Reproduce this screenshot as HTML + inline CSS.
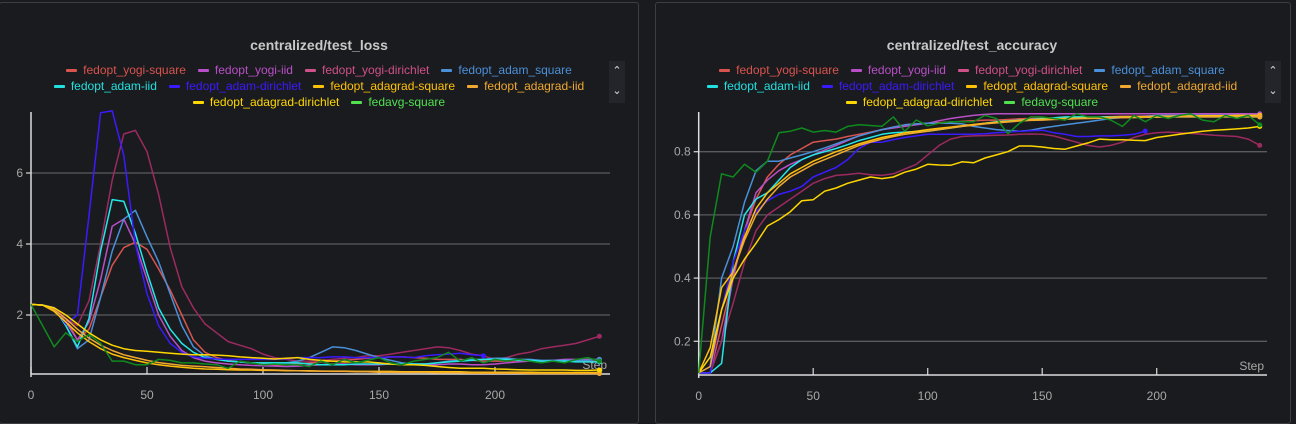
<!DOCTYPE html>
<html><head><meta charset="utf-8">
<style>
body{margin:0;background:#1a1b1e;width:1296px;height:412px;overflow:hidden;font-family:"Liberation Sans",sans-serif}
.panel{position:absolute;top:2px;height:420px;border:1px solid #3c3e42;border-radius:3px;background:#1a1b1e}
.title{position:absolute;top:37px;width:100%;text-align:center;color:#c8c8c8;font-weight:bold;font-size:14px}
.legend{position:absolute;top:62px;left:40px;right:40px;text-align:center;font-size:12px;line-height:16px}
.li{display:inline-block;margin:0 6px;white-space:nowrap}
.li i{display:inline-block;width:11px;height:3px;vertical-align:middle;margin-right:6px;border-radius:1px}
.scroll{position:absolute;top:61px;width:16px;height:42px;background:#23252a;color:#ddd;font-size:11px;text-align:center;line-height:20px}
svg{position:absolute;left:0;top:0}
</style></head><body>
<div class="panel" style="left:-1px;width:638px"></div>
<div class="panel" style="left:655px;width:634px"></div>
<svg id="chart" width="1296" height="412"></svg>
<div style="position:absolute;left:0;width:638px;top:0">
<div class="title">centralized/test_loss</div>
<div class="legend" id="leg1"></div>
<div class="scroll" style="left:609px">⌃<br>⌄</div>
</div>
<div style="position:absolute;left:655px;width:634px;top:0">
<div class="title">centralized/test_accuracy</div>
<div class="legend" id="leg2"></div>
<div class="scroll" style="left:610px">⌃<br>⌄</div>
</div>
<script>
const seriesNames=["fedopt_yogi-square","fedopt_yogi-iid","fedopt_yogi-dirichlet","fedopt_adam_square","fedopt_adam-iid","fedopt_adam-dirichlet","fedopt_adagrad-square","fedopt_adagrad-iid","fedopt_adagrad-dirichlet","fedavg-square"];
const textColors=["#d9534f","#b94fc8","#d0508a","#4a90d9","#22e0e0","#3a1aff","#ffc107","#f0a830","#ffd700","#50e050"];
const lineColors=["#d9534f","#b94fc8","#9c2a60","#4a90d9","#22e8e8","#3a1aff","#ffc107","#f0a830","#ffd700","#0f8a1e"];
const steps=[0,5,10,15,20,25,30,35,40,45,50,55,60,65,70,75,80,85,90,95,100,105,110,115,120,125,130,135,140,145,150,155,160,165,170,175,180,185,190,195,200,205,210,215,220,225,230,235,240,245];
const lossTicksY=[2,4,6];
const accTicksY=[0.2,0.4,0.6,0.8];
const ticksX=[0,50,100,150,200];
const loss_yogi_square=[2.3,2.28,2.2,1.9,1.3,1.6,2.5,3.4,3.9,4.05,3.85,3.3,2.7,2.0,1.3,0.95,0.8,0.72,0.68,0.65,0.62,0.6,0.6,0.62,0.65,0.68,0.7,0.72,0.75,0.78,0.8,0.82,0.82,0.8,0.78,0.75,0.75,0.75,0.72,0.7,0.7,0.7,0.72,0.72,0.7,0.7,0.7,0.7,0.68,0.7];
const loss_yogi_iid=[2.3,2.28,2.2,1.8,1.3,1.8,3.0,4.5,4.7,4.0,3.0,2.0,1.4,1.0,0.8,0.7,0.65,0.62,0.6,0.58,0.57,0.56,0.55,0.56,0.58,0.6,0.62,0.62,0.6,0.6,0.6,0.62,0.62,0.62,0.6,0.6,0.62,0.62,0.6,0.6,0.62,0.65,0.68,0.7,0.7,0.72,0.75,0.75,0.75,0.75];
const loss_yogi_dirichlet=[2.3,2.28,2.2,1.9,1.7,2.4,4.0,5.8,7.1,7.2,6.6,5.4,3.9,2.8,2.2,1.75,1.5,1.25,1.15,1.05,0.9,0.8,0.75,0.7,0.7,0.72,0.75,0.78,0.8,0.85,0.85,0.9,0.95,1.0,1.05,1.1,1.08,1.0,0.9,0.85,0.75,0.8,0.9,0.95,1.05,1.1,1.15,1.2,1.3,1.4];
const loss_adam_square=[2.3,2.28,2.2,1.7,1.05,1.3,2.5,3.8,4.7,4.95,4.2,3.5,2.6,1.7,1.1,0.85,0.75,0.7,0.68,0.65,0.65,0.65,0.65,0.7,0.8,0.95,1.1,1.08,1.0,0.9,0.8,0.72,0.65,0.62,0.62,0.65,0.7,0.72,0.75,0.75,0.78,0.78,0.75,0.75,0.72,0.72,0.72,0.72,0.72,0.75];
const loss_adam_iid=[2.3,2.28,2.2,1.7,1.1,1.9,3.8,5.25,5.2,4.3,3.2,2.2,1.6,1.2,0.95,0.8,0.75,0.7,0.68,0.65,0.65,0.65,0.65,0.65,0.62,0.6,0.6,0.6,0.62,0.62,0.62,0.62,0.62,0.62,0.62,0.65,0.68,0.7,0.72,0.75,0.75,0.75,0.72,0.72,0.7,0.7,0.7,0.68,0.68,0.68];
const loss_adam_dirichlet=[2.3,2.28,2.2,1.75,2.0,4.8,7.7,7.75,6.5,4.0,2.6,1.7,1.2,0.95,0.82,0.78,0.76,0.75,0.75,0.75,0.75,0.75,0.77,0.8,0.8,0.8,0.82,0.82,0.8,0.8,0.8,0.82,0.82,0.8,0.85,0.88,0.9,0.92,0.88,0.85];
const loss_adagrad_square=[2.3,2.28,2.1,1.8,1.5,1.25,1.05,0.9,0.8,0.72,0.65,0.6,0.56,0.53,0.5,0.48,0.47,0.46,0.45,0.45,0.44,0.44,0.43,0.43,0.43,0.42,0.42,0.42,0.41,0.41,0.41,0.41,0.4,0.4,0.4,0.4,0.4,0.4,0.39,0.39,0.39,0.39,0.39,0.39,0.38,0.38,0.38,0.38,0.38,0.38];
const loss_adagrad_iid=[2.3,2.28,2.15,1.9,1.6,1.35,1.15,1.0,0.88,0.8,0.72,0.66,0.62,0.58,0.56,0.54,0.52,0.5,0.48,0.47,0.46,0.45,0.44,0.43,0.42,0.42,0.41,0.41,0.4,0.4,0.39,0.39,0.38,0.38,0.38,0.37,0.37,0.37,0.36,0.36,0.36,0.36,0.36,0.35,0.35,0.35,0.35,0.35,0.35,0.35];
const loss_adagrad_dirichlet=[2.3,2.28,2.2,2.0,1.75,1.5,1.3,1.15,1.05,1.0,0.98,0.95,0.92,0.9,0.88,0.88,0.87,0.85,0.82,0.8,0.78,0.76,0.78,0.8,0.75,0.72,0.7,0.68,0.68,0.68,0.65,0.62,0.6,0.6,0.58,0.55,0.52,0.5,0.5,0.5,0.48,0.47,0.46,0.45,0.45,0.45,0.45,0.44,0.44,0.45];
const loss_fedavg_square=[2.3,1.7,1.1,1.5,1.25,1.45,1.2,0.7,0.7,0.6,0.6,0.75,0.72,0.65,0.65,0.62,0.6,0.5,0.7,0.65,0.6,0.62,0.6,0.6,0.55,0.7,0.6,0.75,0.65,0.72,0.8,0.65,0.6,0.7,0.75,0.8,0.95,0.7,0.8,0.65,0.75,0.7,0.75,0.7,0.65,0.7,0.65,0.75,0.8,0.7];
const acc_yogi_square=[0.1,0.1,0.25,0.4,0.55,0.65,0.72,0.76,0.79,0.81,0.83,0.835,0.84,0.848,0.855,0.862,0.87,0.878,0.885,0.888,0.89,0.892,0.894,0.896,0.898,0.9,0.9,0.902,0.904,0.905,0.906,0.907,0.908,0.909,0.91,0.91,0.911,0.912,0.912,0.913,0.913,0.914,0.914,0.914,0.915,0.915,0.915,0.915,0.915,0.915];
const acc_yogi_iid=[0.1,0.1,0.2,0.4,0.55,0.67,0.71,0.74,0.76,0.775,0.79,0.805,0.82,0.835,0.85,0.86,0.87,0.875,0.88,0.885,0.89,0.898,0.905,0.91,0.915,0.918,0.92,0.92,0.92,0.92,0.92,0.92,0.92,0.92,0.92,0.92,0.92,0.92,0.92,0.92,0.92,0.92,0.92,0.92,0.92,0.92,0.92,0.92,0.92,0.92];
const acc_yogi_dirichlet=[0.1,0.1,0.2,0.32,0.45,0.55,0.6,0.625,0.65,0.675,0.7,0.715,0.725,0.728,0.732,0.727,0.725,0.73,0.745,0.76,0.79,0.82,0.84,0.848,0.85,0.851,0.852,0.853,0.855,0.856,0.855,0.85,0.84,0.83,0.82,0.815,0.82,0.83,0.845,0.855,0.86,0.862,0.86,0.858,0.855,0.852,0.85,0.848,0.84,0.82];
const acc_adam_square=[0.1,0.12,0.4,0.5,0.64,0.74,0.77,0.77,0.78,0.79,0.8,0.812,0.825,0.838,0.85,0.86,0.87,0.878,0.885,0.888,0.89,0.89,0.89,0.888,0.88,0.875,0.87,0.867,0.865,0.868,0.875,0.88,0.885,0.89,0.895,0.9,0.905,0.908,0.91,0.912,0.915,0.915,0.915,0.915,0.915,0.915,0.915,0.915,0.915,0.915];
const acc_adam_iid=[0.1,0.1,0.13,0.45,0.6,0.65,0.67,0.71,0.75,0.775,0.79,0.8,0.81,0.822,0.835,0.845,0.855,0.86,0.862,0.864,0.865,0.87,0.875,0.88,0.885,0.89,0.895,0.897,0.9,0.902,0.905,0.907,0.91,0.91,0.91,0.91,0.91,0.91,0.91,0.91,0.91,0.91,0.91,0.91,0.91,0.91,0.91,0.91,0.91,0.91];
const acc_adam_dirichlet=[0.1,0.1,0.3,0.45,0.55,0.61,0.645,0.665,0.675,0.69,0.72,0.735,0.75,0.775,0.81,0.83,0.83,0.838,0.845,0.85,0.855,0.855,0.855,0.855,0.855,0.857,0.86,0.862,0.865,0.866,0.868,0.86,0.855,0.848,0.848,0.85,0.85,0.852,0.855,0.865];
const acc_adagrad_square=[0.1,0.18,0.37,0.42,0.53,0.62,0.67,0.7,0.73,0.75,0.77,0.785,0.8,0.812,0.825,0.835,0.845,0.852,0.86,0.865,0.87,0.874,0.878,0.882,0.886,0.89,0.893,0.896,0.899,0.901,0.903,0.904,0.905,0.906,0.907,0.908,0.909,0.91,0.91,0.911,0.912,0.912,0.913,0.913,0.914,0.914,0.914,0.915,0.915,0.915];
const acc_adagrad_iid=[0.1,0.12,0.3,0.42,0.52,0.6,0.65,0.69,0.72,0.74,0.76,0.775,0.79,0.805,0.82,0.83,0.84,0.848,0.855,0.86,0.865,0.87,0.875,0.88,0.884,0.888,0.891,0.894,0.897,0.899,0.9,0.902,0.903,0.904,0.905,0.906,0.907,0.908,0.908,0.909,0.909,0.91,0.91,0.91,0.91,0.91,0.91,0.91,0.91,0.91];
const acc_adagrad_dirichlet=[0.1,0.15,0.3,0.4,0.46,0.51,0.565,0.585,0.61,0.645,0.648,0.675,0.685,0.7,0.71,0.72,0.715,0.72,0.735,0.745,0.76,0.758,0.757,0.768,0.765,0.78,0.79,0.8,0.818,0.818,0.815,0.81,0.808,0.818,0.828,0.84,0.838,0.838,0.836,0.835,0.845,0.85,0.855,0.86,0.865,0.868,0.87,0.872,0.875,0.88];
const acc_fedavg_square=[0.1,0.53,0.73,0.72,0.76,0.735,0.77,0.86,0.865,0.875,0.862,0.867,0.862,0.88,0.885,0.883,0.88,0.91,0.865,0.9,0.882,0.89,0.895,0.895,0.895,0.915,0.905,0.857,0.89,0.91,0.91,0.905,0.9,0.92,0.91,0.91,0.9,0.88,0.915,0.895,0.915,0.905,0.915,0.92,0.9,0.895,0.915,0.905,0.915,0.885];
const lossSeries=[loss_yogi_square,loss_yogi_iid,loss_yogi_dirichlet,loss_adam_square,loss_adam_iid,loss_adam_dirichlet,loss_adagrad_square,loss_adagrad_iid,loss_adagrad_dirichlet,loss_fedavg_square];
const accSeries=[acc_yogi_square,acc_yogi_iid,acc_yogi_dirichlet,acc_adam_square,acc_adam_iid,acc_adam_dirichlet,acc_adagrad_square,acc_adagrad_iid,acc_adagrad_dirichlet,acc_fedavg_square];

const NS="http://www.w3.org/2000/svg";
const svg=document.getElementById('chart');
function mk(tag,attrs,parent){const e=document.createElementNS(NS,tag);for(const k in attrs)e.setAttribute(k,attrs[k]);(parent||svg).appendChild(e);return e;}

function drawChart(cfg){
  const g=mk('g',{});
  
  
  const sx=s=>cfg.x0+s*cfg.pxPerStep;
  const sy=v=>cfg.yRef+(cfg.vRef-v)*cfg.pxPerUnit;
  cfg.ticksY.forEach(t=>{
    const l=mk('line',{x1:cfg.x0,x2:cfg.xEnd,y1:sy(t),y2:sy(t),stroke:'#5a5b5e','stroke-width':1.3},g);
    
    
    mk('line',{x1:cfg.x0-5,x2:cfg.x0,y1:sy(t),y2:sy(t),stroke:'#ccc','stroke-width':1.3},g);
    const tx=mk('text',{x:cfg.x0-8,y:sy(t)+4,fill:'#a8a8a8','font-size':12,'text-anchor':'end','font-family':'Liberation Sans'},g);
    tx.textContent=t;
    
    
  });
  ticksX.forEach(t=>{
    mk('line',{x1:sx(t),x2:sx(t),y1:cfg.yAxis,y2:cfg.yAxis-7,stroke:'#ccc','stroke-width':1.3},g);
    const tx=mk('text',{x:sx(t),y:cfg.yAxis+25,fill:'#a8a8a8','font-size':12,'text-anchor':'middle','font-family':'Liberation Sans'},g);
    tx.textContent=t;
    
    
  });
  const ya=mk('line',{x1:cfg.x0,x2:cfg.x0,y1:112,y2:cfg.yAxis+3,stroke:'#ddd','stroke-width':1.5},g);
  
  
  const xa=mk('line',{x1:cfg.x0,x2:cfg.xEnd,y1:cfg.yAxis,y2:cfg.yAxis,stroke:'#ddd','stroke-width':1.5},g);
  
  
  const st=mk('text',{x:cfg.xEnd-3,y:cfg.yAxis-5,fill:'#a8a8a8','font-size':12,'text-anchor':'end','font-family':'Liberation Sans'},g);
  st.textContent='Step';
  
  
  cfg.series.forEach((vals,i)=>{
    const pts=vals.map((v,j)=>sx(steps[j]).toFixed(1)+','+sy(v).toFixed(1)).join(' ');
    const p=mk('polyline',{points:pts,fill:'none',stroke:lineColors[i],'stroke-width':1.5,'stroke-linejoin':'round'},g);
    
    
    const n=vals.length-1;
    const c=mk('circle',{cx:sx(steps[n]),cy:sy(vals[n]),r:2.5,fill:lineColors[i]},g);
    
    
  });
}
drawChart({name:'loss-chart',x0:31,xEnd:610,pxPerStep:2.32,yRef:315,vRef:2,pxPerUnit:35.5,yAxis:374,ticksY:lossTicksY,series:lossSeries});
drawChart({name:'accuracy-chart',x0:698.7,xEnd:1267,pxPerStep:2.29,yRef:151.7,vRef:0.8,pxPerUnit:316,yAxis:375,ticksY:accTicksY,series:accSeries});

['leg1','leg2'].forEach(id=>{
  const leg=document.getElementById(id);
  seriesNames.forEach((n,i)=>{
    const s=document.createElement('span');
    s.className='li';
    
    
    s.style.color=textColors[i];
    s.innerHTML='<i style="background:'+textColors[i]+'"></i>'+n;
    leg.appendChild(s);
  });
});
</script>
</body></html>
